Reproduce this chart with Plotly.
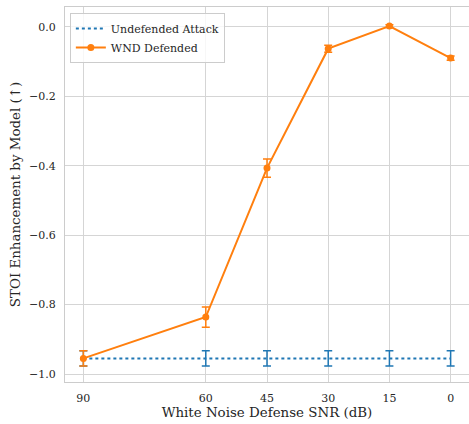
import plotly.graph_objects as go

snr = [90, 60, 45, 30, 15, 0]
snr_ticks = ["90", "60", "45", "30", "15", "0"]

undef_mean = [-0.955, -0.955, -0.955, -0.955, -0.955, -0.955]
undef_err = [0.022, 0.022, 0.022, 0.022, 0.022, 0.022]

wnd_mean = [-0.955, -0.836, -0.407, -0.063, 0.002, -0.090]
wnd_err = [0.022, 0.029, 0.026, 0.010, 0.004, 0.006]

yticks = [0.0, -0.2, -0.4, -0.6, -0.8, -1.0]
ytick_labels = ["0.0", "\u22120.2", "\u22120.4", "\u22120.6", "\u22120.8", "\u22121.0"]

BLUE = "#1f77b4"
ORANGE = "#ff7f0e"
FONT = "DejaVu Serif"

fig = go.Figure()
fig.add_trace(go.Scatter(
    x=snr, y=undef_mean, mode="lines", name="Undefended Attack",
    line=dict(color=BLUE, width=2, dash="dot"),
    error_y=dict(type="data", array=undef_err, visible=True, color=BLUE, thickness=1.5, width=4),
))
fig.add_trace(go.Scatter(
    x=snr, y=wnd_mean, mode="lines+markers", name="WND Defended",
    line=dict(color=ORANGE, width=2),
    marker=dict(color=ORANGE, size=7),
    error_y=dict(type="data", array=wnd_err, visible=True, color=ORANGE, thickness=1.5, width=4),
))

fig.update_layout(
    width=469, height=424,
    margin=dict(l=65, r=0, t=7, b=42),
    paper_bgcolor="white", plot_bgcolor="white",
    font=dict(family=FONT, size=11, color="#262626"),
    showlegend=True,
    legend=dict(
        x=0.012, y=0.984, xanchor="left", yanchor="top",
        bgcolor="rgba(255,255,255,0.8)", bordercolor="#cccccc", borderwidth=1,
        font=dict(family=FONT, size=11, color="#262626"),
        tracegroupgap=0, itemwidth=30,
    ),
)
fig.update_xaxes(
    range=[94.5, -4.5], tickmode="array", tickvals=snr, ticktext=snr_ticks,
    showgrid=True, gridcolor="#d5d5d5", gridwidth=1,
    showline=True, linecolor="#cccccc", linewidth=1, mirror=True,
    zeroline=False, ticks="outside", ticklen=6, tickcolor="rgba(0,0,0,0)",
    title=dict(text="White Noise Defense SNR (dB)", font=dict(family=FONT, size=13.4, color="#262626"), standoff=3),
)
fig.update_yaxes(
    range=[-1.023, 0.057], tickmode="array", tickvals=yticks, ticktext=ytick_labels,
    showgrid=True, gridcolor="#d5d5d5", gridwidth=1,
    showline=True, linecolor="#cccccc", linewidth=1, mirror=True,
    zeroline=False, ticks="outside", ticklen=6, tickcolor="rgba(0,0,0,0)",
    title=dict(text="STOI Enhancement by Model (\u2191)", font=dict(family=FONT, size=13.4, color="#262626"), standoff=5),
)

fig.write_html("out.html")
